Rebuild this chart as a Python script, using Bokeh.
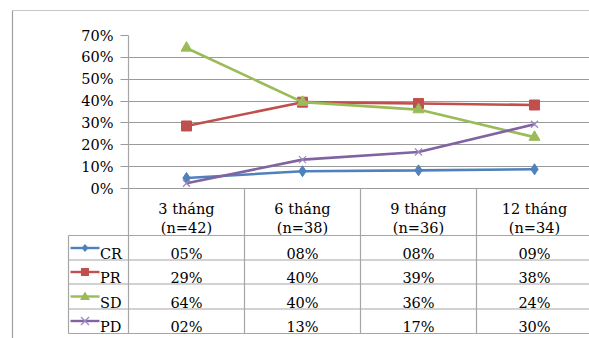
from bokeh.plotting import figure
from bokeh.models import Range1d, FixedTicker
from bokeh.core.properties import value
from bokeh.embed import file_html
from bokeh.resources import INLINE

# ---- data ----
periods = ["3 tháng", "6 tháng", "9 tháng", "12 tháng"]
sizes = ["(n=42)", "(n=38)", "(n=36)", "(n=34)"]
series = ["CR", "PR", "SD", "PD"]
cr = [4.8, 7.9, 8.3, 8.8]
pr = [28.6, 39.5, 38.9, 38.2]
sd = [64.3, 39.5, 36.1, 23.5]
pdv = [2.4, 13.2, 16.7, 29.4]
cr_labels = ["05%", "08%", "08%", "09%"]
pr_labels = ["29%", "40%", "39%", "38%"]
sd_labels = ["64%", "40%", "36%", "24%"]
pd_labels = ["02%", "13%", "17%", "30%"]
yticks = [0, 10, 20, 30, 40, 50, 60, 70]
ytick_labels = ["0%", "10%", "20%", "30%", "40%", "50%", "60%", "70%"]

colors = ["#4F81BD", "#C0504D", "#9BBB59", "#8064A2"]
markers = ["diamond", "square", "triangle", "x"]
msize = [11, 10, 11, 10]
values_all = [cr, pr, sd, pdv]
labels_all = [cr_labels, pr_labels, sd_labels, pd_labels]

FONT = "DejaVu Serif"
FS = "14.5px"
GRID = "#9a9a9a"
TBL = "#a6a6a6"
XCOL = "#9d86c0"

xs = [i + 0.5 for i in range(len(periods))]

ppu = (188 - 35) / 70.0
p = figure(width=589, height=338,
           x_range=Range1d(0, 461 / 116.0),
           y_range=Range1d(-(338 - 188) / ppu, 70),
           x_axis_type=None, output_backend="svg", toolbar_location=None,
           min_border_left=128, min_border_right=0, min_border_top=35, min_border_bottom=0)
p.extra_x_ranges = {"px": Range1d(128, 589)}
p.extra_y_ranges = {"px": Range1d(338, 35)}
p.outline_line_color = None
p.background_fill_color = "white"
p.border_fill_color = "white"

ax = p.yaxis[0]
ax.ticker = FixedTicker(ticks=yticks)
ax.major_label_overrides = dict(zip(yticks, ytick_labels))
ax.axis_line_color = None
ax.major_tick_out = 8
ax.major_tick_in = 0
ax.major_tick_line_color = GRID
ax.minor_tick_line_color = None
ax.major_label_standoff = 7
ax.major_label_text_font = FONT
ax.major_label_text_font_size = FS
ax.major_label_text_color = "black"

p.xgrid.grid_line_color = None
p.ygrid.ticker = FixedTicker(ticks=yticks)
p.ygrid.grid_line_color = GRID
p.ygrid.grid_line_width = 1

# outer chart border
p.segment(x0=[12, 12], y0=[10, 10], x1=[589, 12], y1=[10, 338],
          line_color=["#c8c8c8", "#a0a0a0"], line_width=1.2,
          x_range_name="px", y_range_name="px", level="overlay")

# table grid
row_lines = [235, 259.5, 283.5, 308.5, 333]
p.segment(x0=[68] * len(row_lines), y0=row_lines, x1=[589] * len(row_lines), y1=row_lines,
          line_color=TBL, line_width=1.2, x_range_name="px", y_range_name="px", level="overlay")
p.segment(x0=[128, 68], y0=[35, 235], x1=[128, 68], y1=[333, 333],
          line_color=TBL, line_width=1.2, x_range_name="px", y_range_name="px", level="overlay")
seps = [1, 2, 3]
p.segment(x0=seps, x1=seps, y0=[188] * 3, y1=[333] * 3, line_color=TBL, line_width=1.2,
          y_range_name="px", level="overlay")

# data lines
for vals, c, m, s in zip(values_all, colors, markers, msize):
    p.line(xs, vals, line_color=c, line_width=2.6)
    if m == "x":
        p.scatter(xs, vals, marker=m, size=s, line_color=XCOL, line_width=1.2)
    else:
        p.scatter(xs, vals, marker=m, size=s, fill_color=c, line_color=c)

# table header
p.text(x=xs, y=[208] * 4, text=periods, y_range_name="px", text_font=value(FONT),
       text_font_size=FS, text_color="black", text_align="center", text_baseline="alphabetic",
       level="overlay")
p.text(x=xs, y=[227] * 4, text=sizes, y_range_name="px", text_font=value(FONT),
       text_font_size=FS, text_color="black", text_align="center", text_baseline="alphabetic",
       level="overlay")

# table rows with legend keys
row_base = [253, 277.5, 302, 326.5]
row_mid = [247.5, 271.5, 296, 320.5]
for i in range(len(series)):
    p.text(x=xs, y=[row_base[i]] * 4, text=labels_all[i], y_range_name="px",
           text_font=value(FONT), text_font_size=FS, text_color="black",
           text_align="center", text_baseline="alphabetic", level="overlay")
    cx, cy = 84.5, row_mid[i]
    p.segment(x0=[70], y0=[cy], x1=[99], y1=[cy], line_color=colors[i],
              line_width=2.4, x_range_name="px", y_range_name="px", level="overlay")
    if markers[i] == "diamond":
        p.varea(x=[cx - 3.5, cx, cx + 3.5], y1=[cy, cy - 4, cy], y2=[cy, cy + 4, cy],
                fill_color=colors[i], x_range_name="px", y_range_name="px", level="overlay")
    elif markers[i] == "square":
        p.varea(x=[cx - 4, cx + 4], y1=[cy - 4, cy - 4], y2=[cy + 4, cy + 4],
                fill_color=colors[i], x_range_name="px", y_range_name="px", level="overlay")
    elif markers[i] == "triangle":
        p.varea(x=[cx - 5, cx, cx + 5], y1=[cy + 3.5, cy + 3.5, cy + 3.5],
                y2=[cy + 3.5, cy - 5, cy + 3.5],
                fill_color=colors[i], x_range_name="px", y_range_name="px", level="overlay")
    else:
        p.segment(x0=[cx - 4, cx - 4], y0=[cy - 4, cy + 4], x1=[cx + 4, cx + 4], y1=[cy + 4, cy - 4],
                  line_color=XCOL, line_width=1.2,
                  x_range_name="px", y_range_name="px", level="overlay")
    p.text(x=[99.5], y=[row_base[i]], text=[series[i]], x_range_name="px", y_range_name="px",
           text_font=value(FONT), text_font_size=FS, text_color="black",
           text_align="left", text_baseline="alphabetic", level="overlay")

open("out.html", "w").write(file_html(p, INLINE))
